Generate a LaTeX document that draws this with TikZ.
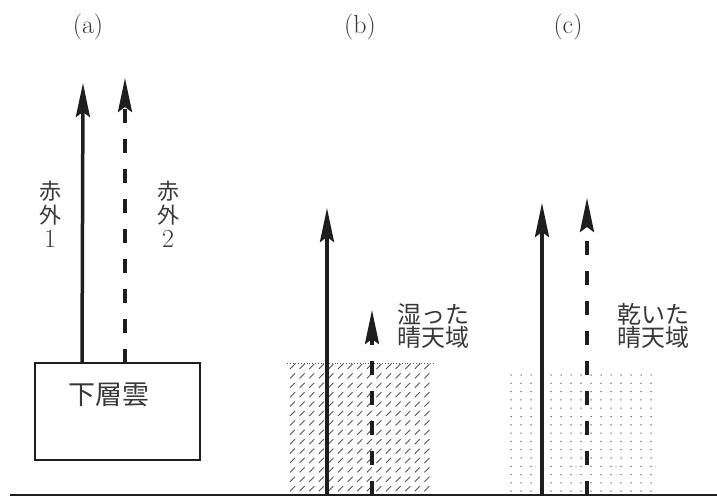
\documentclass[tikz,border=0pt]{standalone}
\usepackage{fontspec}
\newfontfamily\jp{Noto Sans CJK JP}
\newcommand\dgtfont{\rmfamily\fontsize{26}{24}\selectfont}
\usetikzlibrary{arrows.meta}
\definecolor{ink}{HTML}{1E1E1E}
\definecolor{txt}{HTML}{383838}
\definecolor{pat}{HTML}{555555}
\begin{document}
\begin{tikzpicture}[x=1pt,y=-1pt,
  solidarrow/.style={draw=ink, line width=3.5pt, -{Stealth[length=34pt,width=14pt,inset=5pt]}},
  dasharrow/.style={solidarrow, dash pattern=on 14pt off 16pt},
  panellab/.style={text=txt, font=\fontsize{26}{26}\selectfont, inner sep=0pt},
  jplab/.style={text=txt, font=\jp\fontsize{22}{24}\selectfont, align=center, inner sep=0pt},
  sidelab/.style={text=txt, font=\jp\fontsize{24}{23}\selectfont, align=left, inner sep=0pt, anchor=west},
  hatchline/.style={draw=pat, line width=0.9pt},
  dotfill/.style={fill=pat},
  cloudbox/.style={draw=ink, line width=1.6pt, minimum width=165pt, minimum height=97pt, inner sep=0pt}
]
\useasboundingbox (0,0) rectangle (717,497);
\fill[white] (0,0) rectangle (717,497);

% panel labels
\node[panellab] (la) at (88,27) {(a)};
\node[panellab] (lb) at (360,27) {(b)};
\node[panellab] (lc) at (568,27) {(c)};

% ground
\coordinate (g1) at (10,495);
\coordinate (g2) at (717,495);

% (b) hatched region
\foreach \i in {0,...,14} \foreach \j in {0,...,13}
  \draw[hatchline] ({290+\i*9.6},{369+\j*9.4}) -- ++(5,-5);
\draw[pat, dotted, line width=0.8pt] (287,363) -- (433,363);

% (c) dotted region
\foreach \i in {0,...,14} \foreach \j in {0,...,14}
  \fill[dotfill] ({511+\i*10},{375+\j*8.3}) circle (0.75);

\draw[ink, line width=2pt] (g1) -- (g2);

% (a) cloud
\node[cloudbox] (cloud) at (117.5,411.5) {};
\node[jplab, font=\jp\fontsize{27}{27}\selectfont] (cloudtxt) at (109,395) {下層雲};

\coordinate (a1b) at (82,363);
\coordinate (a1t) at (83,83);
\coordinate (a2b) at (125,363);
\coordinate (a2t) at (125,78);
\draw[solidarrow] (a1b) -- (a1t);
\draw[dasharrow] (a2b) -- (a2t);

\node[jplab] (ir1) at (50,214) {赤\\外\\{\dgtfont 1}};
\node[jplab] (ir2) at (168,214) {赤\\外\\{\dgtfont 2}};

% (b)
\coordinate (b1b) at (327,495);
\coordinate (b1t) at (327,208);
\coordinate (b2b) at (372,495);
\coordinate (b2t) at (372,310);
\draw[solidarrow] (b1b) -- (b1t);
\draw[dasharrow] (b2b) -- (b2t);
\node[sidelab] (wet) at (397,326) {湿った\\晴天域};

% (c)
\coordinate (c1b) at (542,495);
\coordinate (c1t) at (542,203);
\coordinate (c2b) at (587,495);
\coordinate (c2t) at (587,198);
\draw[solidarrow] (c1b) -- (c1t);
\draw[dasharrow] (c2b) -- (c2t);
\node[sidelab] (dry) at (617,326) {乾いた\\晴天域};
\end{tikzpicture}
\end{document}
